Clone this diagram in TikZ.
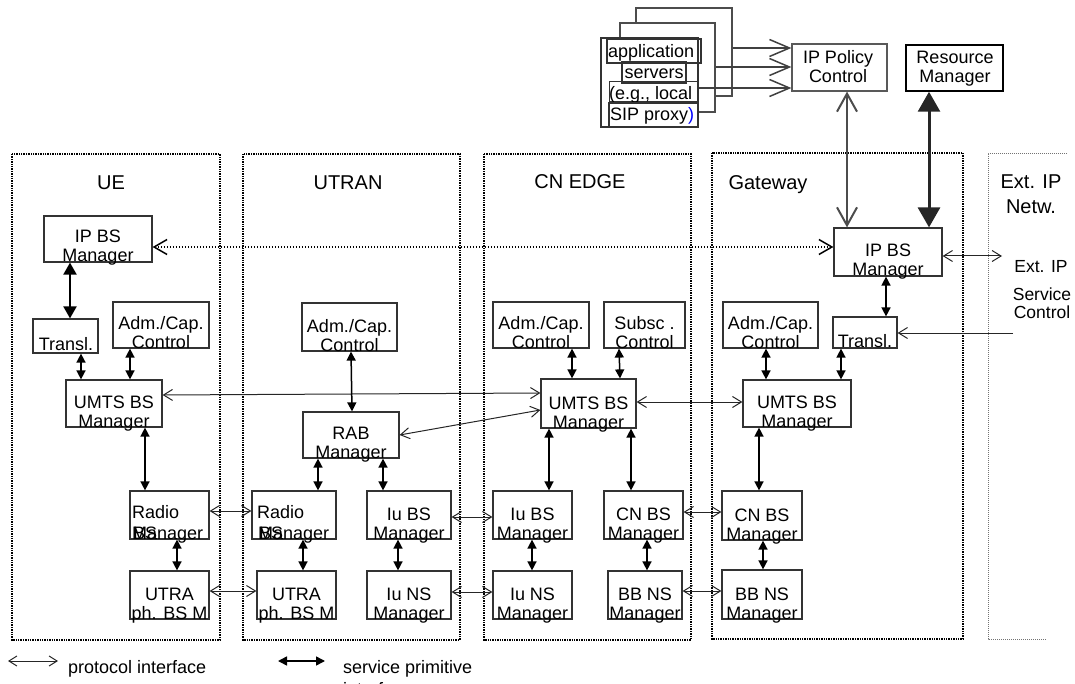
\documentclass[tikz,border=0pt]{standalone}
\usepackage{fontspec}
\setmainfont{Liberation Sans}
\usetikzlibrary{arrows.meta}
\tikzset{
  box/.style={draw=black!80, line width=1.2pt, inner sep=0pt},
  lbl/.style={font=\fontsize{18}{19}\selectfont, align=center, anchor=base, inner sep=0pt},
  lblw/.style={font=\fontsize{18}{19}\selectfont, anchor=base west, inner sep=0pt},
  dlbl/.style={font=\fontsize{20}{25}\selectfont, align=center, anchor=base, inner sep=0pt},
  zone/.style={draw=black, line width=1.6pt, dash pattern=on 1.4pt off 1pt},
  extzone/.style={draw=black!55, line width=0.8pt, dash pattern=on 1pt off 1pt},
  proto/.style={draw=black!85, line width=1pt,
    arrows={Straight Barb[length=9pt,width=11pt]-Straight Barb[length=9pt,width=11pt]}},
  protoone/.style={draw=black!85, line width=1pt, arrows={-Straight Barb[length=9pt,width=11pt]}},
  sprim/.style={draw=black, line width=1.5pt,
    arrows={Triangle[length=9pt,width=9pt]-Triangle[length=9pt,width=9pt]}},
  frame/.style={draw=black!70, fill=white, line width=1.2pt, inner sep=0pt},
  appbox/.style={draw=black!80, inner sep=0pt},
}
% a manager box with a two-line label whose second line sits on the bottom edge
% (the base anchor of a multi-line label is the baseline of its last line)
\newcommand\mgr[6]{%
  \node[box, minimum width={(#4-#2)*1pt}, minimum height={(#5-#3)*1pt}] (#1) at ({(#2+#4)/2},{(#3+#5)/2}) {};
  \node[lbl] (#1-t) at ({(#2+#4)/2},{#5}) {#6};}
% a plain box without a label
\newcommand\plainbox[5]{%
  \node[box, minimum width={(#4-#2)*1pt}, minimum height={(#5-#3)*1pt}] (#1) at ({(#2+#4)/2},{(#3+#5)/2}) {};}

\begin{document}
\begin{tikzpicture}[x=1pt,y=-1pt]
\useasboundingbox (0,0) rectangle (1075,684);

% ---- domains
\draw[zone] (12,154) rectangle (220,640);
\draw[zone] (243,154) rectangle (460,640);
\draw[zone] (484,154) rectangle (691,640);
\draw[zone] (712,153) rectangle (963,639);
\draw[extzone] (1067,153) -- (988,153) -- (988,639) -- (1047,639);

\node[dlbl] (ue-l) at (111,190) {UE};
\node[dlbl] (utran-l) at (348,190) {UTRAN};
\node[dlbl] (cn-l) at (580,189) {CN EDGE};
\node[dlbl] (gw-l) at (768,190) {Gateway};
\node[dlbl] (ext-l) at (1031,214) {Ext. IP\\Netw.};

% ---- UE
\mgr{ueip}{44}{216}{152}{262}{IP BS\\Manager}
\plainbox{uetr}{33}{319}{98}{353}
\node[lbl] (uetr-t) at (66,350) {Transl.};
\mgr{ueadm}{113}{302}{209}{348}{Adm./Cap.\\Control}
\mgr{ueumts}{66}{380}{162}{427}{UMTS BS\\Manager}
\plainbox{ueradio}{130}{491}{209}{539}
\node[lblw] (ueradio-t1) at (132,518) {Radio};
\node[lblw] (ueradio-t2) at (132,539) {Manager};
\node[lblw] (ueradio-t3) at (133,539) {BS};
\mgr{ueutra}{130}{571}{209}{619}{UTRA\\ph. BS M}

% ---- UTRAN
\mgr{utadm}{302}{303}{397}{351}{Adm./Cap.\\Control}
\mgr{rab}{303}{412}{399}{458}{RAB\\Manager}
\plainbox{utradio}{252}{491}{336}{539}
\node[lblw] (utradio-t1) at (257,518) {Radio};
\node[lblw] (utradio-t2) at (258,539) {Manager};
\node[lblw] (utradio-t3) at (259,539) {BS};
\mgr{ututra}{257}{571}{336}{619}{UTRA\\ph. BS M}
\mgr{utiubs}{367}{491}{451}{539}{Iu BS\\Manager}
\mgr{utiuns}{367}{571}{451}{619}{Iu NS\\Manager}

% ---- CN EDGE
\mgr{cnadm}{493}{302}{589}{348}{Adm./Cap.\\Control}
\mgr{cnsub}{604}{302}{685}{348}{Subsc .\\Control}
\mgr{cnumts}{541}{379}{636}{428}{UMTS BS\\Manager}
\mgr{cniubs}{493}{491}{572}{539}{Iu BS\\Manager}
\mgr{cniuns}{493}{571}{572}{619}{Iu NS\\Manager}
\mgr{cncnbs}{604}{491}{683}{539}{CN BS\\Manager}
\mgr{cnbbns}{608}{571}{682}{619}{BB NS\\Manager}

% ---- Gateway
\mgr{gwip}{834}{228}{942}{276}{IP BS\\Manager}
\mgr{gwadm}{723}{302}{818}{348}{Adm./Cap.\\Control}
\plainbox{gwtr}{833}{317}{897}{348}
\node[lbl] (gwtr-t) at (865,347) {Transl.};
\mgr{gwumts}{743}{380}{851}{427}{UMTS BS\\Manager}
\mgr{gwcnbs}{722}{491}{802}{540}{CN BS\\Manager}
\mgr{gwbbns}{722}{570}{802}{619}{BB NS\\Manager}

% ---- external network side
\node[lbl, font=\fontsize{17.5}{18}\selectfont] (extip-t) at (1041,273) {Ext. IP};
\node[lbl, font=\fontsize{17.5}{18}\selectfont] (extsc-t) at (1042,319) {Service\\Control};
\coordinate (extip) at (1002,256);
\coordinate (extsc) at (1013,333);

% ---- policy and resource control
\node[box, draw=black!65, minimum width=95pt, minimum height=47pt] (ippol) at (839.5,67.5) {};
\node[lbl] (ippol-t) at (838,83) {IP Policy\\Control};
\node[box, draw=black, line width=1.5pt, minimum width=97pt, minimum height=46pt] (resmgr) at (954.5,68) {};
\node[lbl] (resmgr-t) at (955,83) {Resource\\Manager};

% ---- stacked application servers
\node[frame, minimum width=96pt, minimum height=88pt] (asback) at (684,52) {};
\node[frame, minimum width=95pt, minimum height=89pt] (asmid) at (667.5,67.5) {};
\node[frame, draw=black!80, line width=2.5pt, minimum width=97pt, minimum height=89pt] (asfront) at (649.5,82.5) {};
\node[appbox, line width=2pt, minimum width=94pt, minimum height=24pt] (asb1) at (654,51) {};
\node[lblw] (asb1-t) at (608,58) {application};
\node[appbox, line width=1.5pt, minimum width=64pt, minimum height=21pt] (asb2) at (654,72.5) {};
\node[lbl] (asb2-t) at (654,79) {servers};
\node[appbox, line width=1pt, minimum width=88pt, minimum height=20pt] (asb3) at (653,92) {};
\node[lblw] (asb3-t) at (609,100) {(e.g., local};
\node[appbox, line width=2.5pt, minimum width=89pt, minimum height=24pt] (asb4) at (653.5,115) {};
\node[lblw] (asb4-t) at (610,121) {SIP proxy\textcolor{blue}{)}};

\draw[draw=black!75, line width=1.5pt, arrows={-Straight Barb[length=20pt,width=17pt]}]
  (asback.east |- 0,48) -- (ippol.west |- 0,48);
\draw[draw=black!75, line width=1.5pt, arrows={-Straight Barb[length=20pt,width=17pt]}]
  (asmid.east |- 0,67) -- (ippol.west |- 0,67);
\draw[draw=black!75, line width=1.5pt, arrows={-Straight Barb[length=20pt,width=17pt]}]
  (asfront.east |- 0,88) -- (ippol.west |- 0,88);

\draw[draw=black!70, line width=2pt,
  arrows={Straight Barb[length=18pt,width=20pt]-Straight Barb[length=18pt,width=20pt]}]
  (ippol.south -| 847,0) -- (gwip.north -| 847,0);
\draw[draw=black!85, line width=3pt,
  arrows={Triangle[length=20pt,width=22pt]-Triangle[length=20pt,width=22pt]}]
  (resmgr.south -| 929,0) -- (gwip.north -| 929,0);

% ---- end-to-end IP bearer service
\draw[draw=black, line width=1.5pt, dash pattern=on 1.5pt off 1.5pt,
  arrows={Straight Barb[length=13pt,width=15pt]-Straight Barb[length=13pt,width=15pt]}]
  (ueip.east |- 0,247) -- (gwip.west |- 0,247);
\draw[proto] (gwip.east |- 0,256) -- (extip);
\draw[protoone] (extsc) -- (gwtr.east |- 0,333);

% ---- protocol interfaces
\draw[proto] (ueumts.east |- 0,395) -- (cnumts.west |- 0,393);
\draw[proto] (rab.east |- 0,435) -- (cnumts.west |- 0,410);
\draw[proto] (cnumts.east |- 0,402) -- (gwumts.west |- 0,402);
\draw[proto] (ueradio.east |- 0,511) -- (utradio.west |- 0,511);
\draw[proto] (ueutra.east |- 0,591) -- (ututra.west |- 0,591);
\draw[proto] (utiubs.east |- 0,517) -- (cniubs.west |- 0,517);
\draw[proto] (utiuns.east |- 0,592) -- (cniuns.west |- 0,592);
\draw[proto] (cncnbs.east |- 0,512) -- (gwcnbs.west |- 0,512);
\draw[proto] (cnbbns.east |- 0,591) -- (gwbbns.west |- 0,591);

% ---- service primitive interfaces
\draw[sprim, line width=2pt, arrows={Triangle[length=12pt,width=13pt]-Triangle[length=12pt,width=13pt]}]
  (ueip.south -| 70,0) -- (uetr.north -| 70,0);
\draw[sprim] (uetr.south -| 81,0) -- (ueumts.north -| 81,0);
\draw[sprim] (ueadm.south -| 130,0) -- (ueumts.north -| 130,0);
\draw[sprim] (ueumts.south -| 145,0) -- (ueradio.north -| 145,0);
\draw[sprim] (ueradio.south -| 177,0) -- (ueutra.north -| 177,0);

\draw[sprim] (utadm.south -| 351,0) -- (rab.north -| 352,0);
\draw[sprim] (rab.south -| 318,0) -- (utradio.north -| 318,0);
\draw[sprim] (rab.south -| 383,0) -- (utiubs.north -| 383,0);
\draw[sprim] (utradio.south -| 303,0) -- (ututra.north -| 303,0);
\draw[sprim] (utiubs.south -| 398,0) -- (utiuns.north -| 398,0);

\draw[sprim] (cnadm.south -| 572,0) -- (cnumts.north -| 572,0);
\draw[sprim] (cnsub.south -| 619,0) -- (cnumts.north -| 620,0);
\draw[sprim] (cnumts.south -| 549,0) -- (cniubs.north -| 549,0);
\draw[sprim] (cnumts.south -| 631,0) -- (cncnbs.north -| 631,0);
\draw[sprim] (cniubs.south -| 532,0) -- (cniuns.north -| 532,0);
\draw[sprim] (cncnbs.south -| 647,0) -- (cnbbns.north -| 647,0);

\draw[sprim] (gwip.south -| 886,0) -- (gwtr.north -| 886,0);
\draw[sprim] (gwadm.south -| 766,0) -- (gwumts.north -| 766,0);
\draw[sprim] (gwtr.south -| 841,0) -- (gwumts.north -| 841,0);
\draw[sprim] (gwumts.south -| 759,0) -- (gwcnbs.north -| 759,0);
\draw[sprim] (gwcnbs.south -| 763,0) -- (gwbbns.north -| 763,0);

% ---- legend
\coordinate (lpa) at (8,661);
\coordinate (lpb) at (58,661);
\draw[proto, arrows={Straight Barb[length=8pt,width=10pt]-Straight Barb[length=8pt,width=10pt]}] (lpa) -- (lpb);
\node[lblw] (lp-t) at (68,673) {protocol interface};
\coordinate (lsa) at (278,661);
\coordinate (lsb) at (325,661);
\draw[sprim] (lsa) -- (lsb);
\node[lblw] (ls-t) at (343,673) {service primitive};
\node[lblw] (ls-t2) at (343,695) {interface};
\end{tikzpicture}
\end{document}
